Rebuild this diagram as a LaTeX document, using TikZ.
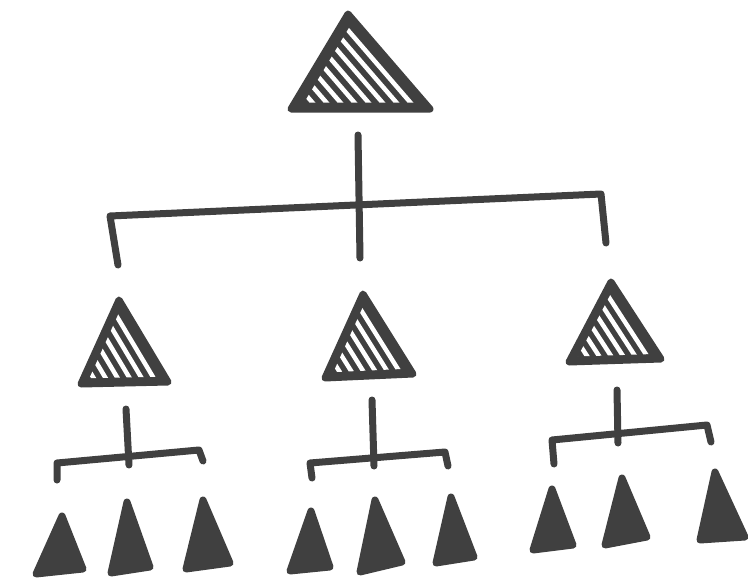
\documentclass[tikz,border=0pt]{standalone}
\usetikzlibrary{calc}
\definecolor{ink}{HTML}{404040}
\tikzset{
  conn/.style={draw=ink, line width=7pt, line cap=round, line join=round},
  tri/.style={fill=ink, draw=ink, line width=7pt, line join=round},
  stripe/.style={draw=white, line width=4.5pt, line cap=round},
}
\newcommand{\hatchtri}[5]{%
  \coordinate (#1a) at #2; \coordinate (#1l) at #3; \coordinate (#1r) at #4;
  \coordinate (#1c) at ($0.3333*(#1a)+0.3333*(#1l)+0.3333*(#1r)$);
  \path[tri] (#1a) -- (#1l) -- (#1r) -- cycle;
  \begin{scope}
    \clip ($(#1c)!0.8!(#1a)$) -- ($(#1c)!0.8!(#1l)$) -- ($(#1c)!0.8!(#1r)$) -- cycle;
    \foreach \k in {-16,...,2} {
      \draw[stripe] ($(#1a)!-1.5!(#1r)+(\k*#5,0)$) -- ($(#1a)!2.5!(#1r)+(\k*#5,0)$);
    }
  \end{scope}}
\newcommand{\solidtri}[4]{%
  \coordinate (#1a) at #2; \coordinate (#1l) at #3; \coordinate (#1r) at #4;
  \path[tri] (#1a) -- (#1l) -- (#1r) -- cycle;}
\begin{document}
\begin{tikzpicture}[x=1pt,y=-1pt]
\useasboundingbox[fill=white] (0,0) rectangle (748,581);
% top triangle
\hatchtri{T}{(348,14)}{(291,109)}{(430,109)}{14}
% middle triangles
\hatchtri{A}{(119,300)}{(81,384)}{(168,382)}{12}
\hatchtri{B}{(363,294)}{(325,378)}{(413,374)}{12}
\hatchtri{C}{(611,282)}{(569,362)}{(661,359)}{12}
% bottom triangles
\solidtri{A1}{(62,516)}{(36,574)}{(83,569)}
\solidtri{A2}{(127,502)}{(111,573)}{(150,567)}
\solidtri{A3}{(203,500)}{(186,569)}{(230,563)}
\solidtri{B1}{(311,511)}{(290,571)}{(330,567)}
\solidtri{B2}{(375,500)}{(360,572)}{(402,562)}
\solidtri{B3}{(451,497)}{(436,563)}{(474,557)}
\solidtri{C1}{(552,489)}{(533,550)}{(573,545)}
\solidtri{C2}{(622,478)}{(605,545)}{(647,537)}
\solidtri{C3}{(715,472)}{(700,540)}{(745,537)}
% top connectors
\coordinate (t0) at (358,135);
\coordinate (t1) at (360,258);
\coordinate (tl) at (110,216);
\coordinate (tr) at (601,194);
\coordinate (tld) at (118,265);
\coordinate (trd) at (606,243);
\draw[conn] (t0) -- (t1);
\draw[conn] (tld) -- (tl) -- (tr) -- (trd);
% left group connectors
\coordinate (a0) at (126,409);
\coordinate (a1) at (129,465);
\coordinate (al) at (57,463);
\coordinate (ar) at (199,450);
\coordinate (ald) at (57,480);
\coordinate (ard) at (203,461);
\draw[conn] (a0) -- (a1);
\draw[conn] (ald) -- (al) -- (ar) -- (ard);
% middle group connectors
\coordinate (b0) at (372,400);
\coordinate (b1) at (374,466);
\coordinate (bl) at (310,463);
\coordinate (br) at (445,452);
\coordinate (bld) at (312,478);
\coordinate (brd) at (448,466);
\draw[conn] (b0) -- (b1);
\draw[conn] (bld) -- (bl) -- (br) -- (brd);
% right group connectors
\coordinate (c0) at (617,390);
\coordinate (c1) at (618,443);
\coordinate (cl) at (552,440);
\coordinate (cr) at (707,425);
\coordinate (cld) at (554,464);
\coordinate (crd) at (711,442);
\draw[conn] (c0) -- (c1);
\draw[conn] (cld) -- (cl) -- (cr) -- (crd);
\end{tikzpicture}
\end{document}
